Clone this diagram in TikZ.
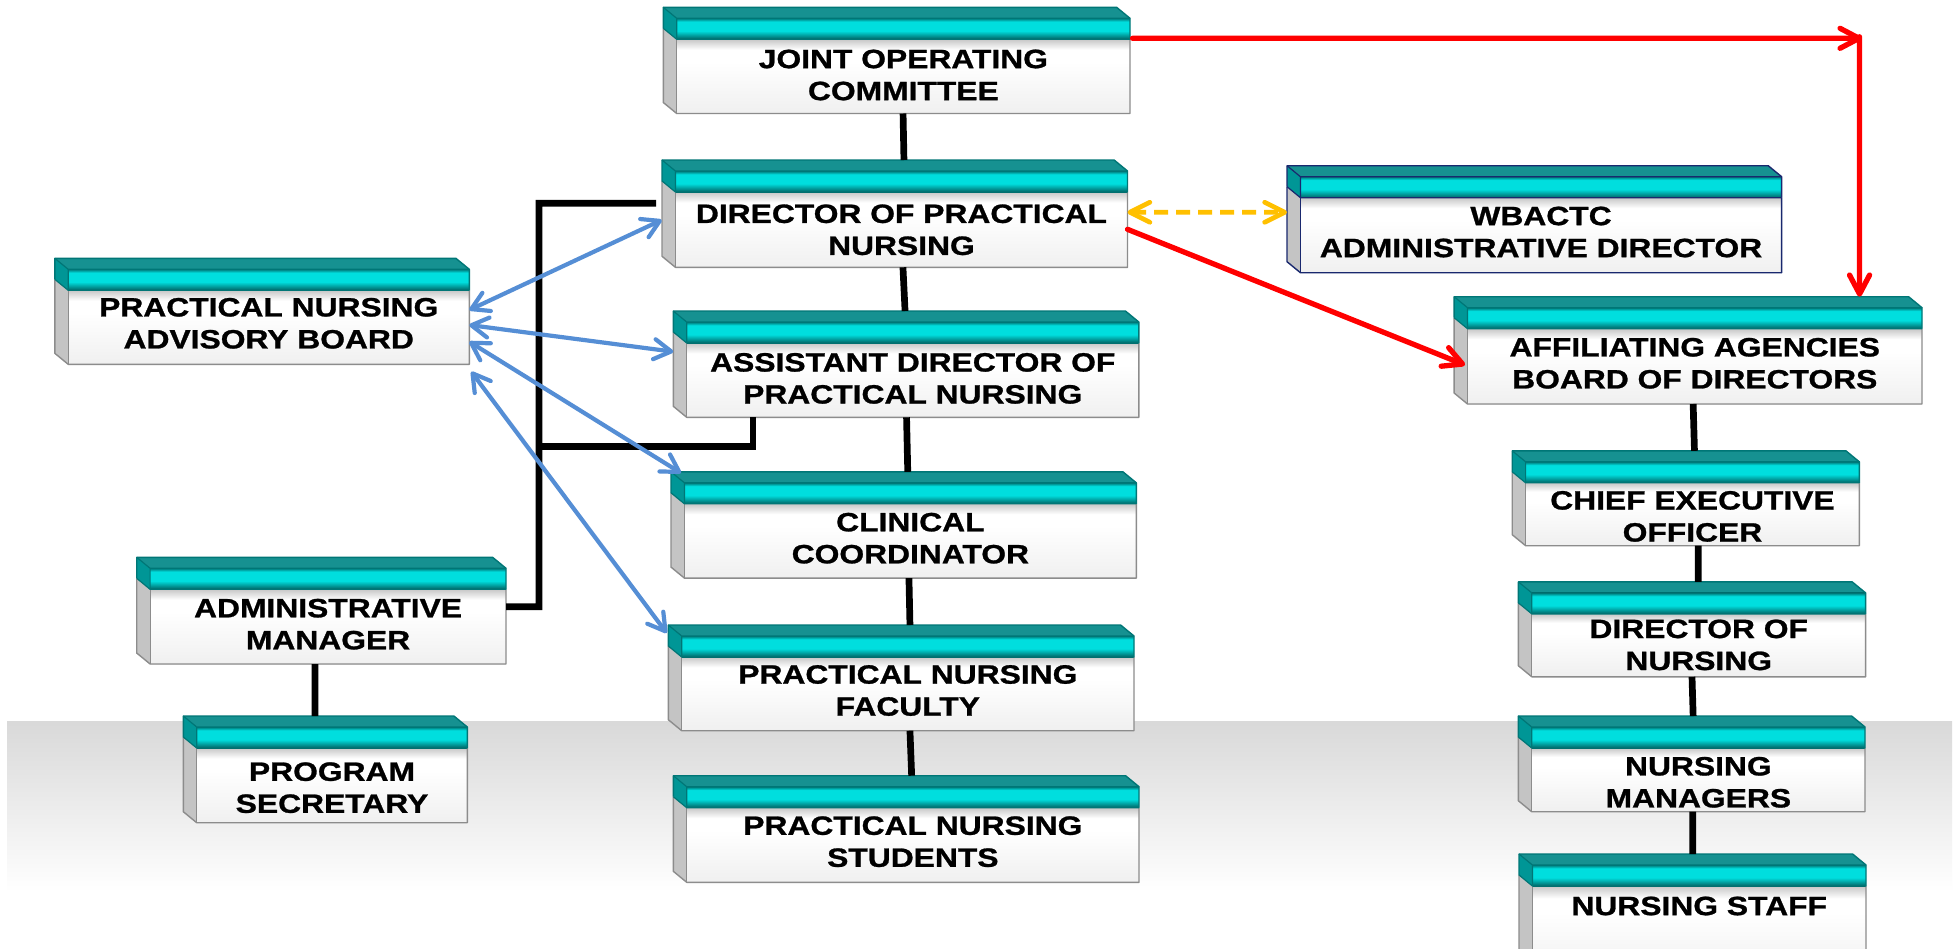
\documentclass[tikz,border=0pt]{standalone}
\usepackage{fontspec}
\setmainfont{Liberation Sans}[FakeStretch=1.2,BoldFeatures={FakeBold=1}]
\usetikzlibrary{arrows.meta}
\definecolor{bandhi}{RGB}{0,222,222}
\definecolor{bandlo}{RGB}{0,100,100}
\definecolor{topface}{RGB}{22,145,145}
\definecolor{bandside}{RGB}{0,150,150}
\definecolor{sidegray}{RGB}{196,196,196}
\definecolor{edgegray}{RGB}{140,140,140}
\definecolor{edgeteal}{RGB}{0,118,118}
\definecolor{boxnavy}{RGB}{25,40,110}
\definecolor{arrowblue}{RGB}{85,142,213}
\definecolor{arrowred}{RGB}{255,0,0}
\definecolor{arrowgold}{RGB}{255,192,0}
\pgfdeclareverticalshading{bandshade}{100bp}{color(0bp)=(bandlo); color(25bp)=(bandlo); color(45bp)=(bandhi); color(67bp)=(bandhi); color(75bp)=(edgeteal); color(100bp)=(edgeteal)}
\pgfdeclareverticalshading{bodyshade}{100bp}{color(0bp)=(black!6); color(25bp)=(black!6); color(60bp)=(white); color(68bp)=(white); color(75bp)=(black!22); color(100bp)=(black!22)}
\tikzset{
  boxtext/.style={font=\bfseries\fontsize{26.5}{32}\selectfont, align=center, inner sep=0pt, text=black},
  vline/.style={line width=6.7pt, black},
  redarr/.style={line width=5.3pt, arrowred, line cap=round, -{Straight Barb[length=19pt,width=20pt,round]}},
  goldarr/.style={line width=4.7pt, arrowgold, dash pattern=on 14pt off 8pt, {Straight Barb[length=20pt,width=20pt,round]}-{Straight Barb[length=20pt,width=20pt,round]}},
  bluearr/.style={line width=4.2pt, arrowblue, {Straight Barb[length=17pt,width=20pt,round]}-{Straight Barb[length=17pt,width=20pt,round]}},
}
% #1 outline colour, #2 name, #3 outer left, #4 top, #5 right, #6 bottom, #7 text y, #8 text
\newcommand{\orgbox}[8][edgegray]{%
  \def\tmpa{#1}\def\tmpb{edgegray}%
  \ifx\tmpa\tmpb\def\upc{edgeteal}\else\def\upc{#1}\fi
  \pgfmathsetmacro{\bxL}{#3+13.4}%
  \pgfmathsetmacro{\bxT}{#4+11}%
  \pgfmathsetmacro{\bxBb}{#4+32}%
  \pgfmathsetmacro{\bxRt}{#5-13.4}%
  \pgfmathsetmacro{\bxSb}{#6-11}%
  \pgfmathsetmacro{\bxSm}{#4+21}%
  \pgfmathsetmacro{\bxCx}{(#3+13.4+#5)/2}%
  \pgfmathsetmacro{\bxW}{#5-#3}%
  \pgfmathsetmacro{\bxH}{#6-#4}%
  \pgfmathsetmacro{\bxMx}{(#3+#5)/2}%
  \pgfmathsetmacro{\bxMy}{(#4+#6)/2}%
  \node[inner sep=0pt, outer sep=0pt, minimum width={\bxW pt}, minimum height={\bxH pt}] (#2) at (\bxMx,\bxMy) {};
  \shade[shading=bodyshade] (\bxL,\bxBb) rectangle (#5,#6);
  \fill[sidegray] (#3,\bxSm) -- (\bxL,\bxBb) -- (\bxL,#6) -- (#3,\bxSb) -- cycle;
  \fill[bandside] (#3,#4) -- (\bxL,\bxT) -- (\bxL,\bxBb) -- (#3,\bxSm) -- cycle;
  \fill[topface] (#3,#4) -- (\bxRt,#4) -- (#5,\bxT) -- (\bxL,\bxT) -- cycle;
  \shade[shading=bandshade] (\bxL,\bxT) rectangle (#5,\bxBb);
  \draw[#1, line width=1.4pt, line join=round] (#3,\bxSm) -- (#3,\bxSb) -- (\bxL,#6) -- (#5,#6) -- (#5,\bxBb);
  \draw[#1, line width=1.2pt] (\bxL,\bxBb) -- (\bxL,#6);
  \draw[\upc, line width=1.4pt, line join=round] (#3,\bxSm) -- (#3,#4) -- (\bxRt,#4) -- (#5,\bxT) -- (#5,\bxBb);
  \draw[\upc, line width=1.2pt] (#3,#4) -- (\bxL,\bxT) -- (#5,\bxT) (\bxL,\bxT) -- (\bxL,\bxBb) (#3,\bxSm) -- (\bxL,\bxBb) -- (#5,\bxBb);
  \node[boxtext] at (\bxCx,#7) {#8};
}
\begin{document}
\begin{tikzpicture}[x=1pt,y=-1pt]
\useasboundingbox (0,0) rectangle (1958,948);
\clip (0,0) rectangle (1958,948);
\fill[white] (0,0) rectangle (1958,948);
\shade[top color=black!15, bottom color=white] (7,721.7) rectangle (1952,892);

\orgbox{joc}{663.3}{7.3}{1130}{113.5}{75}{JOINT OPERATING\\COMMITTEE}
\orgbox{dpn}{662}{160}{1127.5}{267.3}{229.8}{DIRECTOR OF PRACTICAL\\NURSING}
\orgbox[boxnavy]{wb}{1287}{165.7}{1781.6}{272.7}{232}{WBACTC\\ADMINISTRATIVE DIRECTOR}
\orgbox{pnab}{54.8}{258.3}{469.3}{364.3}{323.3}{PRACTICAL NURSING\\ADVISORY BOARD}
\orgbox{adpn}{673.3}{311}{1138.8}{417.3}{378.4}{ASSISTANT DIRECTOR OF\\PRACTICAL NURSING}
\orgbox{aabd}{1454.1}{296.7}{1922}{404}{363.3}{AFFILIATING AGENCIES\\BOARD OF DIRECTORS}
\orgbox{cc}{671}{471.8}{1136.3}{578.1}{538.2}{CLINICAL\\COORDINATOR}
\orgbox{ceo}{1512.2}{450.8}{1859.3}{545.7}{516.4}{CHIEF EXECUTIVE\\OFFICER}
\orgbox{am}{136.7}{557.3}{506}{664}{624.2}{ADMINISTRATIVE\\MANAGER}
\orgbox{pnf}{668.3}{625}{1134}{730.7}{690.5}{PRACTICAL NURSING\\FACULTY}
\orgbox{dn}{1518.4}{581.9}{1865.6}{676.8}{644.9}{DIRECTOR OF\\NURSING}
\orgbox{ps}{183.3}{716}{467.3}{822.7}{787.7}{PROGRAM\\SECRETARY}
\orgbox{nm}{1518.3}{716}{1865}{811.7}{782.3}{NURSING\\MANAGERS}
\orgbox{pns}{673.3}{775.7}{1139}{882.3}{841.7}{PRACTICAL NURSING\\STUDENTS}
\orgbox{ns}{1519}{854}{1866}{975}{906}{NURSING STAFF}

% vertical hierarchy lines
\draw[vline] ([xshift=6.4pt]joc.south) -- ([xshift=9.2pt]dpn.north);
\draw[vline] ([xshift=8.2pt]dpn.south) -- ([xshift=-1pt]adpn.north);
\draw[vline] ([xshift=0.5pt]adpn.south) -- ([xshift=4.1pt]cc.north);
\draw[vline] ([xshift=5.3pt]cc.south) -- ([xshift=8.8pt]pnf.north);
\draw[vline] ([xshift=8.8pt]pnf.south) -- ([xshift=5.5pt]pns.north);
\draw[vline] ([xshift=-6.3pt]am.south) -- ([xshift=-10.3pt]ps.north);
\draw[vline] ([xshift=5.1pt]aabd.south) -- ([xshift=8.7pt]ceo.north);
\draw[vline] ([xshift=12.4pt]ceo.south) -- ([xshift=6.2pt]dn.north);
\draw[vline] (dn.south) -- ([xshift=1.5pt]nm.north);
\draw[vline] ([xshift=1pt]nm.south) -- ([xshift=0.2pt]ns.north);

% elbow lines
\coordinate (spT) at (539,203.3);
\coordinate (spB) at (539,606.7);
\coordinate (spJ) at (539,446.7);
\draw[vline] ([xshift=-6pt,yshift=10.35pt]dpn.west) -- (spT) -- (spB) -- ([yshift=3.95pt]am.east);
\draw[vline] ([xshift=-153pt]adpn.south) |- (spJ);

% red arrows
\coordinate (rc) at (1859.5,38.3);
\draw[redarr] ([xshift=2.5pt,yshift=22.1pt]joc.east) -- ([xshift=2.2pt]rc);
\draw[redarr] ([yshift=1.5pt]rc) -- ([xshift=171.5pt]aabd.north);
\draw[redarr] ([yshift=-15.65pt]dpn.east) -- ([xshift=10.9pt,yshift=-14.65pt]aabd.west);

% gold dashed double arrow
\draw[goldarr] ([yshift=1.35pt]dpn.east) -- ([yshift=6.9pt]wb.west);

% blue double arrows
\draw[bluearr] ([yshift=1.3pt]pnab.east) -- ([xshift=-0.3pt,yshift=-6.35pt]dpn.west);
\draw[bluearr] ([yshift=-13.7pt]pnab.east) -- ([yshift=12.45pt]adpn.west);
\draw[bluearr] ([yshift=-30.4pt]pnab.east) -- ([xshift=10pt,yshift=-1.2pt]cc.north west);
\draw[bluearr] ([xshift=2pt,yshift=-7.4pt]pnab.south east) -- ([xshift=-1.6pt,yshift=-8pt]pnf.north west);
\end{tikzpicture}
\end{document}
